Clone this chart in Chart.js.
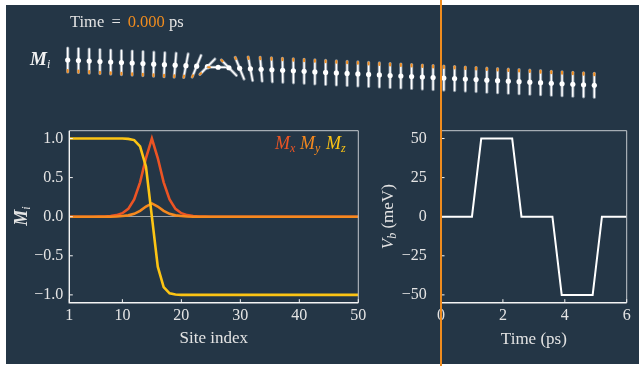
<!DOCTYPE html>
<html>
<head>
<meta charset="utf-8">
<script src="https://cdn.jsdelivr.net/npm/chart.js@4.4.0/dist/chart.umd.min.js"></script>
<style>
html, body { margin: 0; padding: 0; background: #fff; }
#fig { position: relative; width: 639px; height: 366px; overflow: hidden; }
#bg { position: absolute; left: 6px; top: 5px; width: 633px; height: 359px; background: #243646; }
canvas { position: absolute; left: 0; top: 0; }
</style>
</head>
<body>
<div id="fig">
  <div id="bg"></div>
  <canvas id="spins" width="639" height="366"></canvas>
  <canvas id="profile" width="639" height="366"></canvas>
  <canvas id="pulse" width="639" height="366"></canvas>
</div>
<script>
// magnetisation profile along the chain (site index 1..50)
const sites = [1, 2, 3, 4, 5, 6, 7, 8, 9, 10, 11, 12, 13, 14, 15, 16, 17, 18, 19, 20,
  21, 22, 23, 24, 25, 26, 27, 28, 29, 30, 31, 32, 33, 34, 35, 36, 37, 38, 39, 40,
  41, 42, 43, 44, 45, 46, 47, 48, 49, 50];
const mx = [0, 0, 0, 0, 0, 0.001, 0.003, 0.008, 0.02, 0.045, 0.10, 0.22, 0.44, 0.75, 1.0,
  0.75, 0.44, 0.22, 0.10, 0.045, 0.02, 0.008, 0.003, 0.001, 0, 0, 0, 0, 0, 0,
  0, 0, 0, 0, 0, 0, 0, 0, 0, 0, 0, 0, 0, 0, 0, 0, 0, 0, 0, 0];
const my = [0, 0, 0, 0, 0, 0, 0, 0, 0.003, 0.008, 0.017, 0.037, 0.075, 0.13, 0.17,
  0.13, 0.075, 0.037, 0.017, 0.008, 0.003, 0, 0, 0, 0, 0, 0, 0, 0, 0,
  0, 0, 0, 0, 0, 0, 0, 0, 0, 0, 0, 0, 0, 0, 0, 0, 0, 0, 0, 0];
const mz = [1, 1, 1, 1, 1, 1, 1, 1, 1, 1, 0.995, 0.98, 0.9, 0.64, 0,
  -0.64, -0.9, -0.98, -0.995, -1, -1, -1, -1, -1, -1, -1, -1, -1, -1, -1,
  -1, -1, -1, -1, -1, -1, -1, -1, -1, -1, -1, -1, -1, -1, -1, -1, -1, -1, -1, -1];
const siteTicks = [1, 10, 20, 30, 40, 50];
const mTicks = [-1, -0.5, 0, 0.5, 1];

// bias pulse
const vbTimes = [0, 1.0, 1.3, 2.3, 2.6, 3.6, 3.9, 4.9, 5.2, 6.0];
const vbValues = [0, 0, 50, 50, 0, 0, -50, -50, 0, 0];
const timeTicks = [0, 2, 4, 6];
const vbTicks = [-50, -25, 0, 25, 50];
const currentTime = 0;

const TXT = '#e4e4e4';
const SERIF = '"Liberation Serif", "Times New Roman", serif';
const C_MX = '#ec5424', C_MY = '#f5891f', C_MZ = '#fcc414', C_T = '#f08c1e';

Chart.defaults.font.family = SERIF;
Chart.defaults.color = TXT;

function minus(s) { return String(s).replace('-', '\u2212'); }

// draw a run of text pieces [text, font, color, dy]
function rich(ctx, parts, x, y, center) {
  let w = 0;
  parts.forEach(p => { ctx.font = p[1]; w += ctx.measureText(p[0]).width; });
  let cx = center ? x - w / 2 : x;
  parts.forEach(p => {
    ctx.font = p[1];
    ctx.fillStyle = p[2];
    ctx.fillText(p[0], cx, y + (p[3] || 0));
    cx += ctx.measureText(p[0]).width;
  });
}

function frame(chart) {
  const { ctx, chartArea: a, scales: { x, y } } = chart;
  ctx.save();
  ctx.lineWidth = 1;
  ctx.strokeStyle = '#c4c9ce';
  ctx.beginPath();
  ctx.moveTo(a.left, a.top); ctx.lineTo(a.right, a.top); ctx.lineTo(a.right, a.bottom);
  ctx.stroke();
  ctx.strokeStyle = '#f4f4f4';
  ctx.lineWidth = 1.4;
  ctx.beginPath();
  ctx.moveTo(a.left, a.top); ctx.lineTo(a.left, a.bottom); ctx.lineTo(a.right, a.bottom);
  ctx.stroke();
  ctx.lineWidth = 1;
  ctx.beginPath();
  x.ticks.forEach(t => {
    const px = x.getPixelForValue(t.value);
    ctx.moveTo(px, a.bottom); ctx.lineTo(px, a.bottom - 3.5);
  });
  y.ticks.forEach(t => {
    const py = y.getPixelForValue(t.value);
    ctx.moveTo(a.left, py); ctx.lineTo(a.left + 3.5, py);
  });
  ctx.stroke();
  ctx.restore();
}

function yTitle(ctx, parts, cx, cy) {
  ctx.save();
  ctx.translate(cx, cy);
  ctx.rotate(-Math.PI / 2);
  ctx.textBaseline = 'alphabetic';
  rich(ctx, parts, 0, 5, true);
  ctx.restore();
}

// ---------- spin row ----------
const spinPlugin = {
  id: 'spinRow',
  afterDatasetsDraw(chart) {
    const { ctx, scales: { x, y } } = chart;
    const rowDrop = 25.3, armX = 10;
    const y0 = y.getPixelForValue(0);
    ctx.save();
    ctx.lineCap = 'round';
    sites.forEach((s, i) => {
      const cx = x.getPixelForValue(s);
      const cy = y0 + rowDrop * (s - 1) / (sites.length - 1);
      const hx = cx + mx[i] * armX;
      const hy = cy + (y.getPixelForValue(mz[i]) - y0);
      const tx = 2 * cx - hx, ty = 2 * cy - hy;
      ctx.strokeStyle = 'rgba(150,162,174,0.85)';
      ctx.lineWidth = 3.2;
      ctx.beginPath(); ctx.moveTo(tx, ty); ctx.lineTo(hx, hy); ctx.stroke();
      ctx.strokeStyle = '#ffffff';
      ctx.lineWidth = 1.5;
      ctx.beginPath(); ctx.moveTo(tx, ty); ctx.lineTo(hx, hy); ctx.stroke();
      ctx.strokeStyle = C_T;
      ctx.lineWidth = 2;
      ctx.beginPath(); ctx.moveTo(tx, ty); ctx.lineTo(tx + (hx - tx) * 0.08, ty + (hy - ty) * 0.08); ctx.stroke();
      ctx.fillStyle = '#ffffff';
      ctx.beginPath(); ctx.arc(cx, cy, 2.6, 0, Math.PI * 2); ctx.fill();
    });
    ctx.textBaseline = 'alphabetic';
    rich(ctx, [['M', 'bold italic 19px ' + SERIF, '#f2f2f2'], ['i', 'italic 12px ' + SERIF, '#f2f2f2', 3]], 30, 65, false);
    const f = '16.5px ' + SERIF;
    ctx.font = f; ctx.fillStyle = TXT;
    ctx.fillText('Time', 70, 27);
    ctx.fillText('=', 111.5, 27);
    ctx.fillStyle = C_T;
    ctx.fillText(currentTime.toFixed(3), 127.7, 27);
    ctx.fillStyle = TXT;
    ctx.fillText('ps', 169, 27);
    ctx.restore();
  }
};

new Chart(document.getElementById('spins'), {
  type: 'scatter',
  data: { datasets: [{ data: sites.map(s => ({ x: s, y: 0 })), pointRadius: 0 }] },
  options: {
    responsive: false, animation: false, events: [],
    layout: { padding: { left: 67.7, right: 44.7, top: 48, bottom: 294 } },
    plugins: { legend: { display: false }, tooltip: { enabled: false } },
    scales: {
      x: { type: 'linear', display: false, min: 1, max: 50 },
      y: { type: 'linear', display: false, min: -1, max: 1 }
    }
  },
  plugins: [spinPlugin]
});

// ---------- profile chart ----------
const profilePlugin = {
  id: 'profileDeco',
  afterDatasetsDraw(chart) {
    const ctx = chart.ctx;
    frame(chart);
    ctx.save();
    ctx.textBaseline = 'alphabetic';
    yTitle(ctx, [['M', 'bold italic 18px ' + SERIF, TXT], ['i', 'italic 12px ' + SERIF, TXT, 3]], 22, 216);
    const it = 'italic 18px ' + SERIF, sub = 'italic 12px ' + SERIF;
    rich(ctx, [['M', it, C_MX], ['x', sub, C_MX, 3]], 275, 149, false);
    rich(ctx, [['M', it, C_MY], ['y', sub, C_MY, 3]], 300, 149, false);
    rich(ctx, [['M', it, C_MZ], ['z', sub, C_MZ, 3]], 326, 149, false);
    ctx.restore();
  }
};

function line(values, color, order) {
  return {
    data: sites.map((s, i) => ({ x: s, y: values[i] })),
    borderColor: color, borderWidth: 2.6, pointRadius: 0, tension: 0, order: order
  };
}

const tickFont = { family: SERIF, size: 16 };
const titleFont = { family: SERIF, size: 17 };

new Chart(document.getElementById('profile'), {
  type: 'line',
  data: { datasets: [line(mx, C_MX, 2), line(my, C_MY, 1), line(mz, C_MZ, 0)] },
  options: {
    responsive: false, animation: false, events: [],
    layout: { padding: { left: 0, right: 280.7, top: 130.7, bottom: 0 } },
    plugins: { legend: { display: false }, tooltip: { enabled: false } },
    scales: {
      x: {
        type: 'linear', min: 1, max: 50,
        afterBuildTicks: s => { s.ticks = siteTicks.map(v => ({ value: v })); },
        afterFit: s => { s.height = 63.3; },
        grid: { display: false, drawTicks: false },
        border: { display: false },
        ticks: { padding: 3, color: TXT, font: tickFont, autoSkip: false, maxRotation: 0, callback: v => String(v) },
        title: { display: true, text: 'Site index', color: TXT, font: titleFont, padding: { top: 0, bottom: 16.8 } }
      },
      y: {
        type: 'linear', min: -1.1, max: 1.1,
        afterBuildTicks: s => { s.ticks = mTicks.map(v => ({ value: v })); },
        afterFit: s => { s.width = 69.3; },
        grid: { drawTicks: false, lineWidth: 1, color: c => (c.tick && c.tick.value === 0 ? '#9aa3ac' : 'rgba(0,0,0,0)') },
        border: { display: false },
        ticks: { padding: 6, color: TXT, font: tickFont, callback: v => minus(v.toFixed(1)) }
      }
    }
  },
  plugins: [profilePlugin]
});

// ---------- pulse chart ----------
const pulsePlugin = {
  id: 'pulseDeco',
  afterDatasetsDraw(chart) {
    const ctx = chart.ctx;
    frame(chart);
    ctx.save();
    yTitle(ctx, [['V', 'italic 17px ' + SERIF, TXT], ['b', 'italic 12px ' + SERIF, TXT, 3], [' (meV)', '17px ' + SERIF, TXT]], 388.3, 216.7);
    const px = chart.scales.x.getPixelForValue(currentTime);
    ctx.strokeStyle = C_T;
    ctx.lineWidth = 2;
    ctx.beginPath(); ctx.moveTo(px, 0); ctx.lineTo(px, chart.height); ctx.stroke();
    ctx.restore();
  }
};

new Chart(document.getElementById('pulse'), {
  type: 'line',
  data: {
    datasets: [{
      data: vbTimes.map((t, i) => ({ x: t, y: vbValues[i] })),
      borderColor: '#ffffff', borderWidth: 2, pointRadius: 0, tension: 0
    }]
  },
  options: {
    responsive: false, animation: false, events: [],
    layout: { padding: { left: 381, right: 12.3, top: 130.7, bottom: 0 } },
    plugins: { legend: { display: false }, tooltip: { enabled: false } },
    scales: {
      x: {
        type: 'linear', min: 0, max: 6,
        afterBuildTicks: s => { s.ticks = timeTicks.map(v => ({ value: v })); },
        afterFit: s => { s.height = 63.3; },
        grid: { display: false, drawTicks: false },
        border: { display: false },
        ticks: { padding: 3, color: TXT, font: tickFont, autoSkip: false, maxRotation: 0, callback: v => String(v) },
        title: { display: true, text: 'Time (ps)', color: TXT, font: titleFont, padding: { top: 0, bottom: 15.8 } }
      },
      y: {
        type: 'linear', min: -55, max: 55,
        afterBuildTicks: s => { s.ticks = vbTicks.map(v => ({ value: v })); },
        afterFit: s => { s.width = 60; },
        grid: { display: false, drawTicks: false },
        border: { display: false },
        ticks: { padding: 14.3, color: TXT, font: tickFont, callback: v => minus(v) }
      }
    }
  },
  plugins: [pulsePlugin]
});
</script>
</body>
</html>
